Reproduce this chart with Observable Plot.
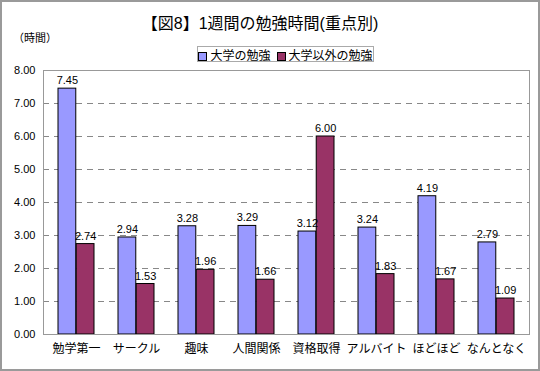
<!DOCTYPE html>
<html><head><meta charset="utf-8">
<script src="https://cdn.jsdelivr.net/npm/d3@7"></script>
<script src="https://cdn.jsdelivr.net/npm/@observablehq/plot@0.6"></script>
<style>
body{margin:0;background:#fff;}
#wrap{position:relative;width:540px;height:371px;font-family:"Liberation Sans","Noto Sans CJK JP",sans-serif;color:#000;background:#fff;overflow:hidden;}
#chart{position:absolute;left:0;top:0;}
#border{position:absolute;left:0;top:0;width:540px;height:371px;box-sizing:border-box;border:2px solid #9a9a9a;pointer-events:none;}
#title{position:absolute;top:10px;left:0;width:520px;text-align:center;font-size:16px;white-space:nowrap;}
#unit{position:absolute;top:29px;left:13px;font-size:11px;}
#legend{position:absolute;left:197px;top:46px;width:177px;height:16px;box-sizing:border-box;border:1px solid #aaa;font-size:12px;display:flex;align-items:center;justify-content:center;gap:6px;white-space:nowrap;}
#legend span.sw{display:inline-block;width:7px;height:7px;border:1px solid #000;margin-right:3px;vertical-align:middle;}
</style></head>
<body>
<div id="wrap">
  <div id="chart"></div>
  <div id="title"></div>
  <div id="unit"></div>
  <div id="legend"></div>
  <div id="border"></div>
</div>
<script>
const titleText = "【図8】1週間の勉強時間(重点別)";
const unitText = "（時間）";
const categories = ["勉学第一","サークル","趣味","人間関係","資格取得","アルバイト","ほどほど","なんとなく"];
const seriesNames = ["大学の勉強","大学以外の勉強"];
const seriesColors = ["#9999FF","#993366"];
const univValues = [7.45,2.94,3.28,3.29,3.12,3.24,4.19,2.79];
const otherValues = [2.74,1.53,1.96,1.66,6.00,1.83,1.67,1.09];
const yTicks = [0,1,2,3,4,5,6,7,8];
const gridTicks = [1,2,3,4,5,6,7];

document.getElementById("title").textContent = titleText;
document.getElementById("unit").textContent = unitText;
const lg = document.getElementById("legend");
seriesNames.forEach((s,i)=>{
  const item = document.createElement("span");
  const sw = document.createElement("span");
  sw.className = "sw"; sw.style.background = seriesColors[i];
  item.appendChild(sw);
  item.appendChild(document.createTextNode(s));
  lg.appendChild(item);
});

const univRows = categories.map((c,i)=>({category:c, series:seriesNames[0], value:univValues[i]}));
const otherRows = categories.map((c,i)=>({category:c, series:seriesNames[1], value:otherValues[i]}));

const W = 540, H = 371, mL = 43, mR = 11, mT = 70, mB = 37;
const pIn = 0.4, pOut = 0.2;
const step = (W - mL - mR) / (categories.length - pIn + 2*pOut);
const half = step * (1 - pIn) / 2;

const chart = Plot.plot({
  width: W, height: H,
  marginLeft: mL, marginRight: mR, marginTop: mT, marginBottom: mB,
  style: {fontFamily: '"Liberation Sans","Noto Sans CJK JP",sans-serif', fontSize: "11px", color: "#000", background: "transparent"},
  x: {domain: categories, paddingInner: pIn, paddingOuter: pOut, label: null},
  y: {domain: [0, 8], label: null},
  marks: [
    Plot.gridY(gridTicks, {stroke: "#888", strokeOpacity: 1, strokeDasharray: "6,5"}),
    Plot.barY(univRows, {x: "category", y: "value", fill: seriesColors[0], stroke: "#000", strokeWidth: 1, insetRight: half}),
    Plot.barY(otherRows, {x: "category", y: "value", fill: seriesColors[1], stroke: "#000", strokeWidth: 1, insetLeft: half}),
    Plot.text(univRows, {x: "category", y: "value", text: d => d.value.toFixed(2), dx: -half/2, dy: -8, fontSize: 11, fill: "#000"}),
    Plot.text(otherRows, {x: "category", y: "value", text: d => d.value.toFixed(2), dx: half/2, dy: -8, fontSize: 11, fill: "#000"}),
    Plot.frame({stroke: "#999"}),
    Plot.axisY({ticks: yTicks, tickFormat: d => d.toFixed(2), tickSize: 0, tickPadding: 8, fontSize: 11, label: null}),
    Plot.axisX({tickSize: 0, tickPadding: 10, fontSize: 12, label: null})
  ]
});
document.getElementById("chart").appendChild(chart);
</script>
</body></html>
